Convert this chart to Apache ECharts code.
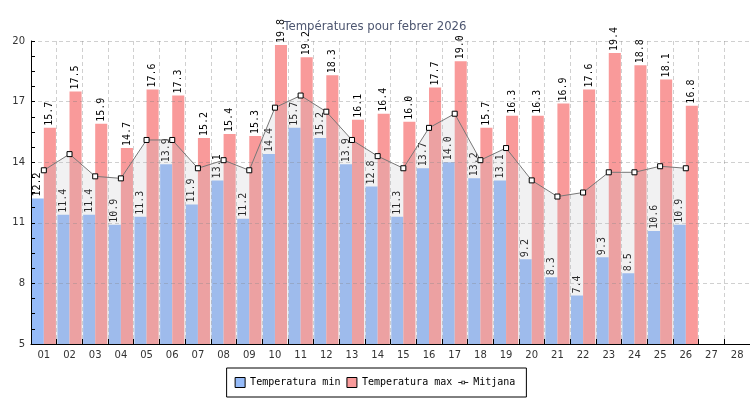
<!DOCTYPE html>
<html><head><meta charset="utf-8">
<script src="https://cdn.jsdelivr.net/npm/echarts@6/dist/echarts.min.js"></script>
<style>html,body{margin:0;padding:0;background:#fff}#c{width:750px;height:400px}</style>
</head><body><div id="c"></div>
<script>
const days = ['01','02','03','04','05','06','07','08','09','10','11','12','13','14','15','16','17','18','19','20','21','22','23','24','25','26','27','28'];
const tempMin = [12.2,11.4,11.4,10.9,11.3,13.9,11.9,13.1,11.2,14.4,15.7,15.2,13.9,12.8,11.3,13.7,14.0,13.2,13.1,9.2,8.3,7.4,9.3,8.5,10.6,10.9,null,null];
const tempMax = [15.7,17.5,15.9,14.7,17.6,17.3,15.2,15.4,15.3,19.8,19.2,18.3,16.1,16.4,16.0,17.7,19.0,15.7,16.3,16.3,16.9,17.6,19.4,18.8,18.1,16.8,null,null];
const mitjana = [13.6,14.4,13.3,13.2,15.1,15.1,13.7,14.1,13.6,16.7,17.3,16.5,15.1,14.3,13.7,15.7,16.4,14.1,14.7,13.1,12.3,12.5,13.5,13.5,13.8,13.7,null,null];
const yTicks = [5,8,11,14,17,20];
const yMinor = [];
for (let i = 0; i < yTicks.length - 1; i++) { const s = (yTicks[i+1]-yTicks[i])/4; for (let k = 0; k < 4; k++) yMinor.push(yTicks[i] + k*s); }
yMinor.push(yTicks[yTicks.length-1]);

const mono = 'DejaVu Sans Mono, monospace';
const lbl = {
  show: true, position: 'top', rotate: 90, align: 'left', verticalAlign: 'middle', distance: 2,
  fontFamily: mono, fontSize: 10, color: '#000',
  formatter: p => (p.value == null ? '' : Number(p.value).toFixed(1))
};
const chart = echarts.init(document.getElementById('c'));
chart.setOption({
  animation: false,
  title: { text: 'Températures pour febrer 2026', left: 'center', top: 15,
    textStyle: { fontFamily: 'DejaVu Sans Condensed, Liberation Sans Narrow, sans-serif', fontSize: 13, fontWeight: 'normal', color: '#4d5670' } },
  legend: {
    left: 'center', top: 368, orient: 'horizontal',
    padding: [9, 11, 9, 8], borderColor: '#000', borderWidth: 1, backgroundColor: '#fff',
    itemWidth: 10, itemHeight: 10, itemGap: 6, symbolKeepAspect: true,
    textStyle: { fontFamily: mono, fontSize: 10, color: '#000' },
    data: [
      { name: 'Temperatura min', icon: 'rect', itemStyle: { borderColor: '#000', borderWidth: 1 } },
      { name: 'Temperatura max', icon: 'rect', itemStyle: { borderColor: '#000', borderWidth: 1 } },
      { name: 'Mitjana', icon: 'path://M0,5h3.5v1h-3.5z M7.5,5h3.5v1h-3.5z M3.5,3.5h4v4h-4z M4.5,4.5v2h2v-2z',
        itemStyle: { color: '#222', borderWidth: 0 } }
    ]
  },
  grid: { left: 31, right: 0, top: 41, bottom: 56 },
  xAxis: {
    type: 'category', data: days, boundaryGap: true, z: 3,
    axisLine: { lineStyle: { color: '#000', width: 1 } },
    axisTick: { show: true, inside: true, length: 5, interval: 0, lineStyle: { color: '#000' } },
    axisLabel: { fontSize: 10, color: '#333', fontFamily: 'DejaVu Sans, sans-serif', margin: 6, interval: 0 },
    splitLine: { show: true, interval: 0, lineStyle: { color: 'rgba(120,120,120,0.35)', type: [4, 3], width: 1 } }
  },
  yAxis: [
    {
      type: 'value', min: 5, max: 20, interval: 1, z: 3,
      axisLine: { show: true, lineStyle: { color: '#000', width: 1 } },
      axisTick: { show: true, inside: true, length: 4, customValues: yMinor, lineStyle: { color: '#000' } },
      axisLabel: { customValues: yTicks, fontSize: 10, color: '#333', fontFamily: 'DejaVu Sans, sans-serif', margin: 6 },
      splitLine: { show: false }
    },
    {
      type: 'value', min: 5, max: 20, interval: 1, z: 3, position: 'left',
      axisLine: { show: false }, axisLabel: { show: false },
      axisTick: { show: false, customValues: yTicks.slice(1) },
      splitLine: { show: true, lineStyle: { color: 'rgba(120,120,120,0.35)', type: [4, 3], width: 1 } }
    }
  ],
  series: [
    { name: 'Temperatura min', type: 'bar', data: tempMin, barGap: '0%', barCategoryGap: '6%',
      itemStyle: { color: '#96bbf8' }, label: lbl },
    { name: 'Temperatura max', type: 'bar', data: tempMax, barGap: '0%', barCategoryGap: '6%',
      itemStyle: { color: '#f99a9a' }, label: lbl },
    { name: 'Mitjana', type: 'line', data: mitjana, symbol: 'rect', symbolSize: 5, showAllSymbol: true,
      lineStyle: { color: '#777', width: 1 },
      itemStyle: { color: '#fff', borderColor: '#000', borderWidth: 1 },
      areaStyle: { origin: 'start', color: 'rgba(190,190,195,0.3)' } }
  ]
});
</script></body></html>
